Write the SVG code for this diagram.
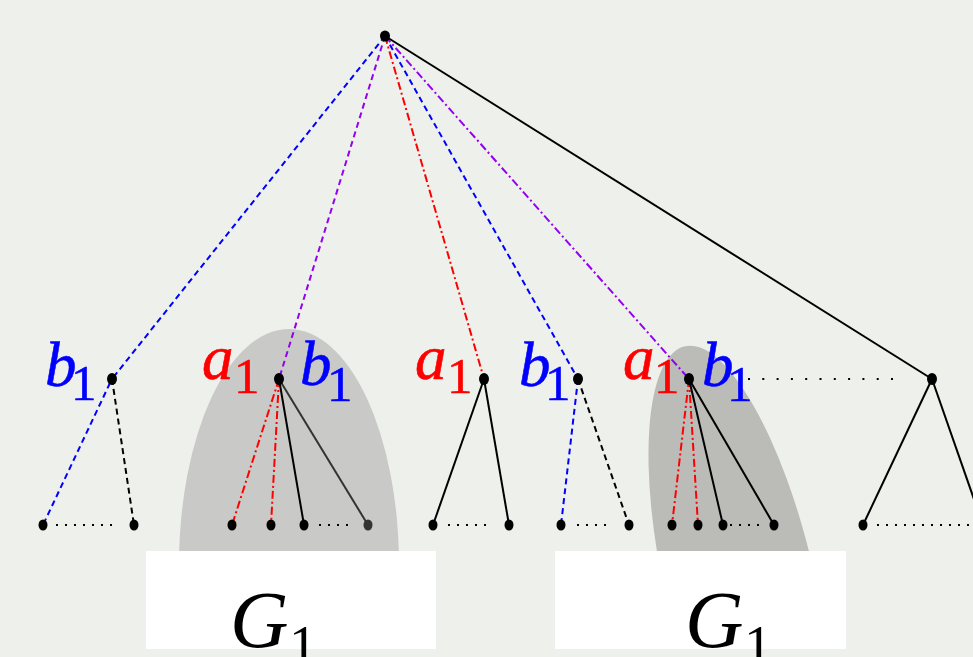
<svg xmlns="http://www.w3.org/2000/svg" width="973" height="657" viewBox="0 0 973 657">
<defs>
<style>
.bg{fill:#eef0ec}
.e{fill:none;stroke-width:2}
.blk{stroke:#000}
.dg{stroke:#333}
.blue{stroke:#0000ff}
.red{stroke:#ff0000}
.pur{stroke:#9400f0}
.dash{stroke-dasharray:6 4}
.dd{stroke-dasharray:8 3 2 3}
.dot{fill:none;stroke:#000;stroke-width:2;stroke-dasharray:2 7}
.n{fill:#000}
.lab{font-family:"Liberation Serif","Times New Roman",serif;font-style:italic;font-size:63px}
.sub{font-family:"Liberation Serif","Times New Roman",serif;font-style:normal;font-size:51px}
.tb{stroke:#0000ff;stroke-width:0.6}
.tr{stroke:#ff0000;stroke-width:0.6}
.g{font-family:"Liberation Serif","Times New Roman",serif;font-style:italic;font-size:81px;fill:#000}
.gs{font-family:"Liberation Serif","Times New Roman",serif;font-size:56px;fill:#000}
</style>
<clipPath id="clipTop"><rect x="0" y="0" width="973" height="551"/></clipPath>
</defs>
<rect class="bg" x="0" y="0" width="973" height="657"/>
<g id="shades" clip-path="url(#clipTop)">
<ellipse cx="289" cy="565" rx="110" ry="236" fill="#c9cac7"/>
<ellipse cx="0" cy="0" rx="75" ry="245" fill="#bbbcb8" transform="translate(740,585) rotate(-13)"/>
</g>
<g id="connectors">
<line class="e blue dash" x1="385" y1="36" x2="112" y2="379"/>
<line class="e pur dash" x1="385" y1="36" x2="279" y2="379"/>
<line class="e red dd" x1="385" y1="36" x2="484" y2="379"/>
<line class="e blue dash" x1="385" y1="36" x2="578" y2="379"/>
<line class="e pur dd" x1="385" y1="36" x2="689" y2="379"/>
<line class="e blk" x1="385" y1="36" x2="932" y2="379"/>
<line class="e blue dash" x1="110" y1="383" x2="43" y2="525"/>
<line class="e blk dash" x1="112" y1="379" x2="134" y2="525"/>
<line class="e red dd" x1="279" y1="379" x2="232" y2="525"/>
<line class="e red dd" x1="279" y1="379" x2="271" y2="525"/>
<line class="e blk" x1="279" y1="379" x2="304" y2="525"/>
<line class="e dg" x1="279" y1="379" x2="368" y2="525"/>
<line class="e blk" x1="484" y1="379" x2="433" y2="525"/>
<line class="e blk" x1="484" y1="379" x2="509" y2="525"/>
<line class="e blue dash" x1="578" y1="379" x2="561" y2="525"/>
<line class="e blk dash" x1="578" y1="379" x2="629" y2="525"/>
<line class="e red dd" x1="689" y1="379" x2="672" y2="525"/>
<line class="e red dd" x1="689" y1="379" x2="698" y2="525"/>
<line class="e blk" x1="689" y1="379" x2="723" y2="525"/>
<line class="e blk" x1="689" y1="379" x2="774" y2="525"/>
<line class="e blk" x1="932" y1="379" x2="863" y2="525"/>
<line class="e blk" x1="932" y1="379" x2="983" y2="525"/>
<line class="dot" x1="56" y1="525" x2="112" y2="525"/>
<line class="dot" x1="319" y1="525" x2="349" y2="525"/>
<line class="dot" x1="448" y1="525" x2="487" y2="525"/>
<line class="dot" x1="577" y1="525" x2="607" y2="525"/>
<line class="dot" x1="730" y1="525" x2="760" y2="525"/>
<line class="dot" x1="877" y1="525" x2="973" y2="525"/>
<line class="dot" x1="748" y1="379" x2="893" y2="379" style="stroke-dasharray:2 12.3"/>
</g>
<g id="root"><ellipse class="n" cx="385" cy="36" rx="5" ry="5.5"/></g>
<g id="node-b1-1">
<ellipse class="n" cx="112" cy="379" rx="5" ry="6"/>
<text x="45" y="386" fill="#0000ff" class="tb"><tspan class="lab">b</tspan><tspan class="sub" x="71" y="400">1</tspan></text>
</g>
<g id="node-a1b1-1">
<ellipse class="n" cx="279" cy="379" rx="5" ry="6"/>
<text x="202" y="379" fill="#ff0000" class="tr"><tspan class="lab">a</tspan><tspan class="sub" x="234" y="393">1</tspan></text>
<text x="300" y="385" fill="#0000ff" class="tb"><tspan class="lab">b</tspan><tspan class="sub" x="327" y="401">1</tspan></text>
</g>
<g id="node-a1-2">
<ellipse class="n" cx="484" cy="379" rx="5" ry="6"/>
<text x="415" y="379" fill="#ff0000" class="tr"><tspan class="lab">a</tspan><tspan class="sub" x="447" y="393">1</tspan></text>
</g>
<g id="node-b1-2">
<ellipse class="n" cx="578" cy="379" rx="5" ry="6"/>
<text x="519" y="386" fill="#0000ff" class="tb"><tspan class="lab">b</tspan><tspan class="sub" x="545" y="400">1</tspan></text>
</g>
<g id="node-a1b1-2">
<ellipse class="n" cx="689" cy="379" rx="5" ry="6"/>
<text x="623" y="379" fill="#ff0000" class="tr"><tspan class="lab">a</tspan><tspan class="sub" x="654" y="393">1</tspan></text>
<text x="702" y="386" fill="#0000ff" class="tb"><tspan class="lab">b</tspan><tspan class="sub" x="727" y="401">1</tspan></text>
</g>
<g id="node-right"><ellipse class="n" cx="932" cy="379" rx="5" ry="6"/></g>
<g id="leaves">
<ellipse class="n" cx="43" cy="525" rx="4.5" ry="5.5"/>
<ellipse class="n" cx="134" cy="525" rx="4.5" ry="5.5"/>
<ellipse class="n" cx="232" cy="525" rx="4.5" ry="5.5"/>
<ellipse class="n" cx="271" cy="525" rx="4.5" ry="5.5"/>
<ellipse class="n" cx="304" cy="525" rx="4.5" ry="5.5"/>
<ellipse cx="368" cy="525" rx="4.5" ry="5.5" fill="#333"/>
<ellipse class="n" cx="433" cy="525" rx="4.5" ry="5.5"/>
<ellipse class="n" cx="509" cy="525" rx="4.5" ry="5.5"/>
<ellipse class="n" cx="561" cy="525" rx="4.5" ry="5.5"/>
<ellipse class="n" cx="629" cy="525" rx="4.5" ry="5.5"/>
<ellipse class="n" cx="672" cy="525" rx="4.5" ry="5.5"/>
<ellipse class="n" cx="698" cy="525" rx="4.5" ry="5.5"/>
<ellipse class="n" cx="723" cy="525" rx="4.5" ry="5.5"/>
<ellipse class="n" cx="774" cy="525" rx="4.5" ry="5.5"/>
<ellipse class="n" cx="863" cy="525" rx="4.5" ry="5.5"/>
</g>
<g id="G1-left">
<rect x="146" y="551" width="290" height="98" fill="#ffffff"/>
<text x="230" y="647"><tspan class="g">G</tspan><tspan class="gs" x="289" y="665">1</tspan></text>
</g>
<g id="G1-right">
<rect x="555" y="551" width="291" height="98" fill="#ffffff"/>
<text x="685" y="647"><tspan class="g">G</tspan><tspan class="gs" x="744" y="665">1</tspan></text>
</g>
</svg>
